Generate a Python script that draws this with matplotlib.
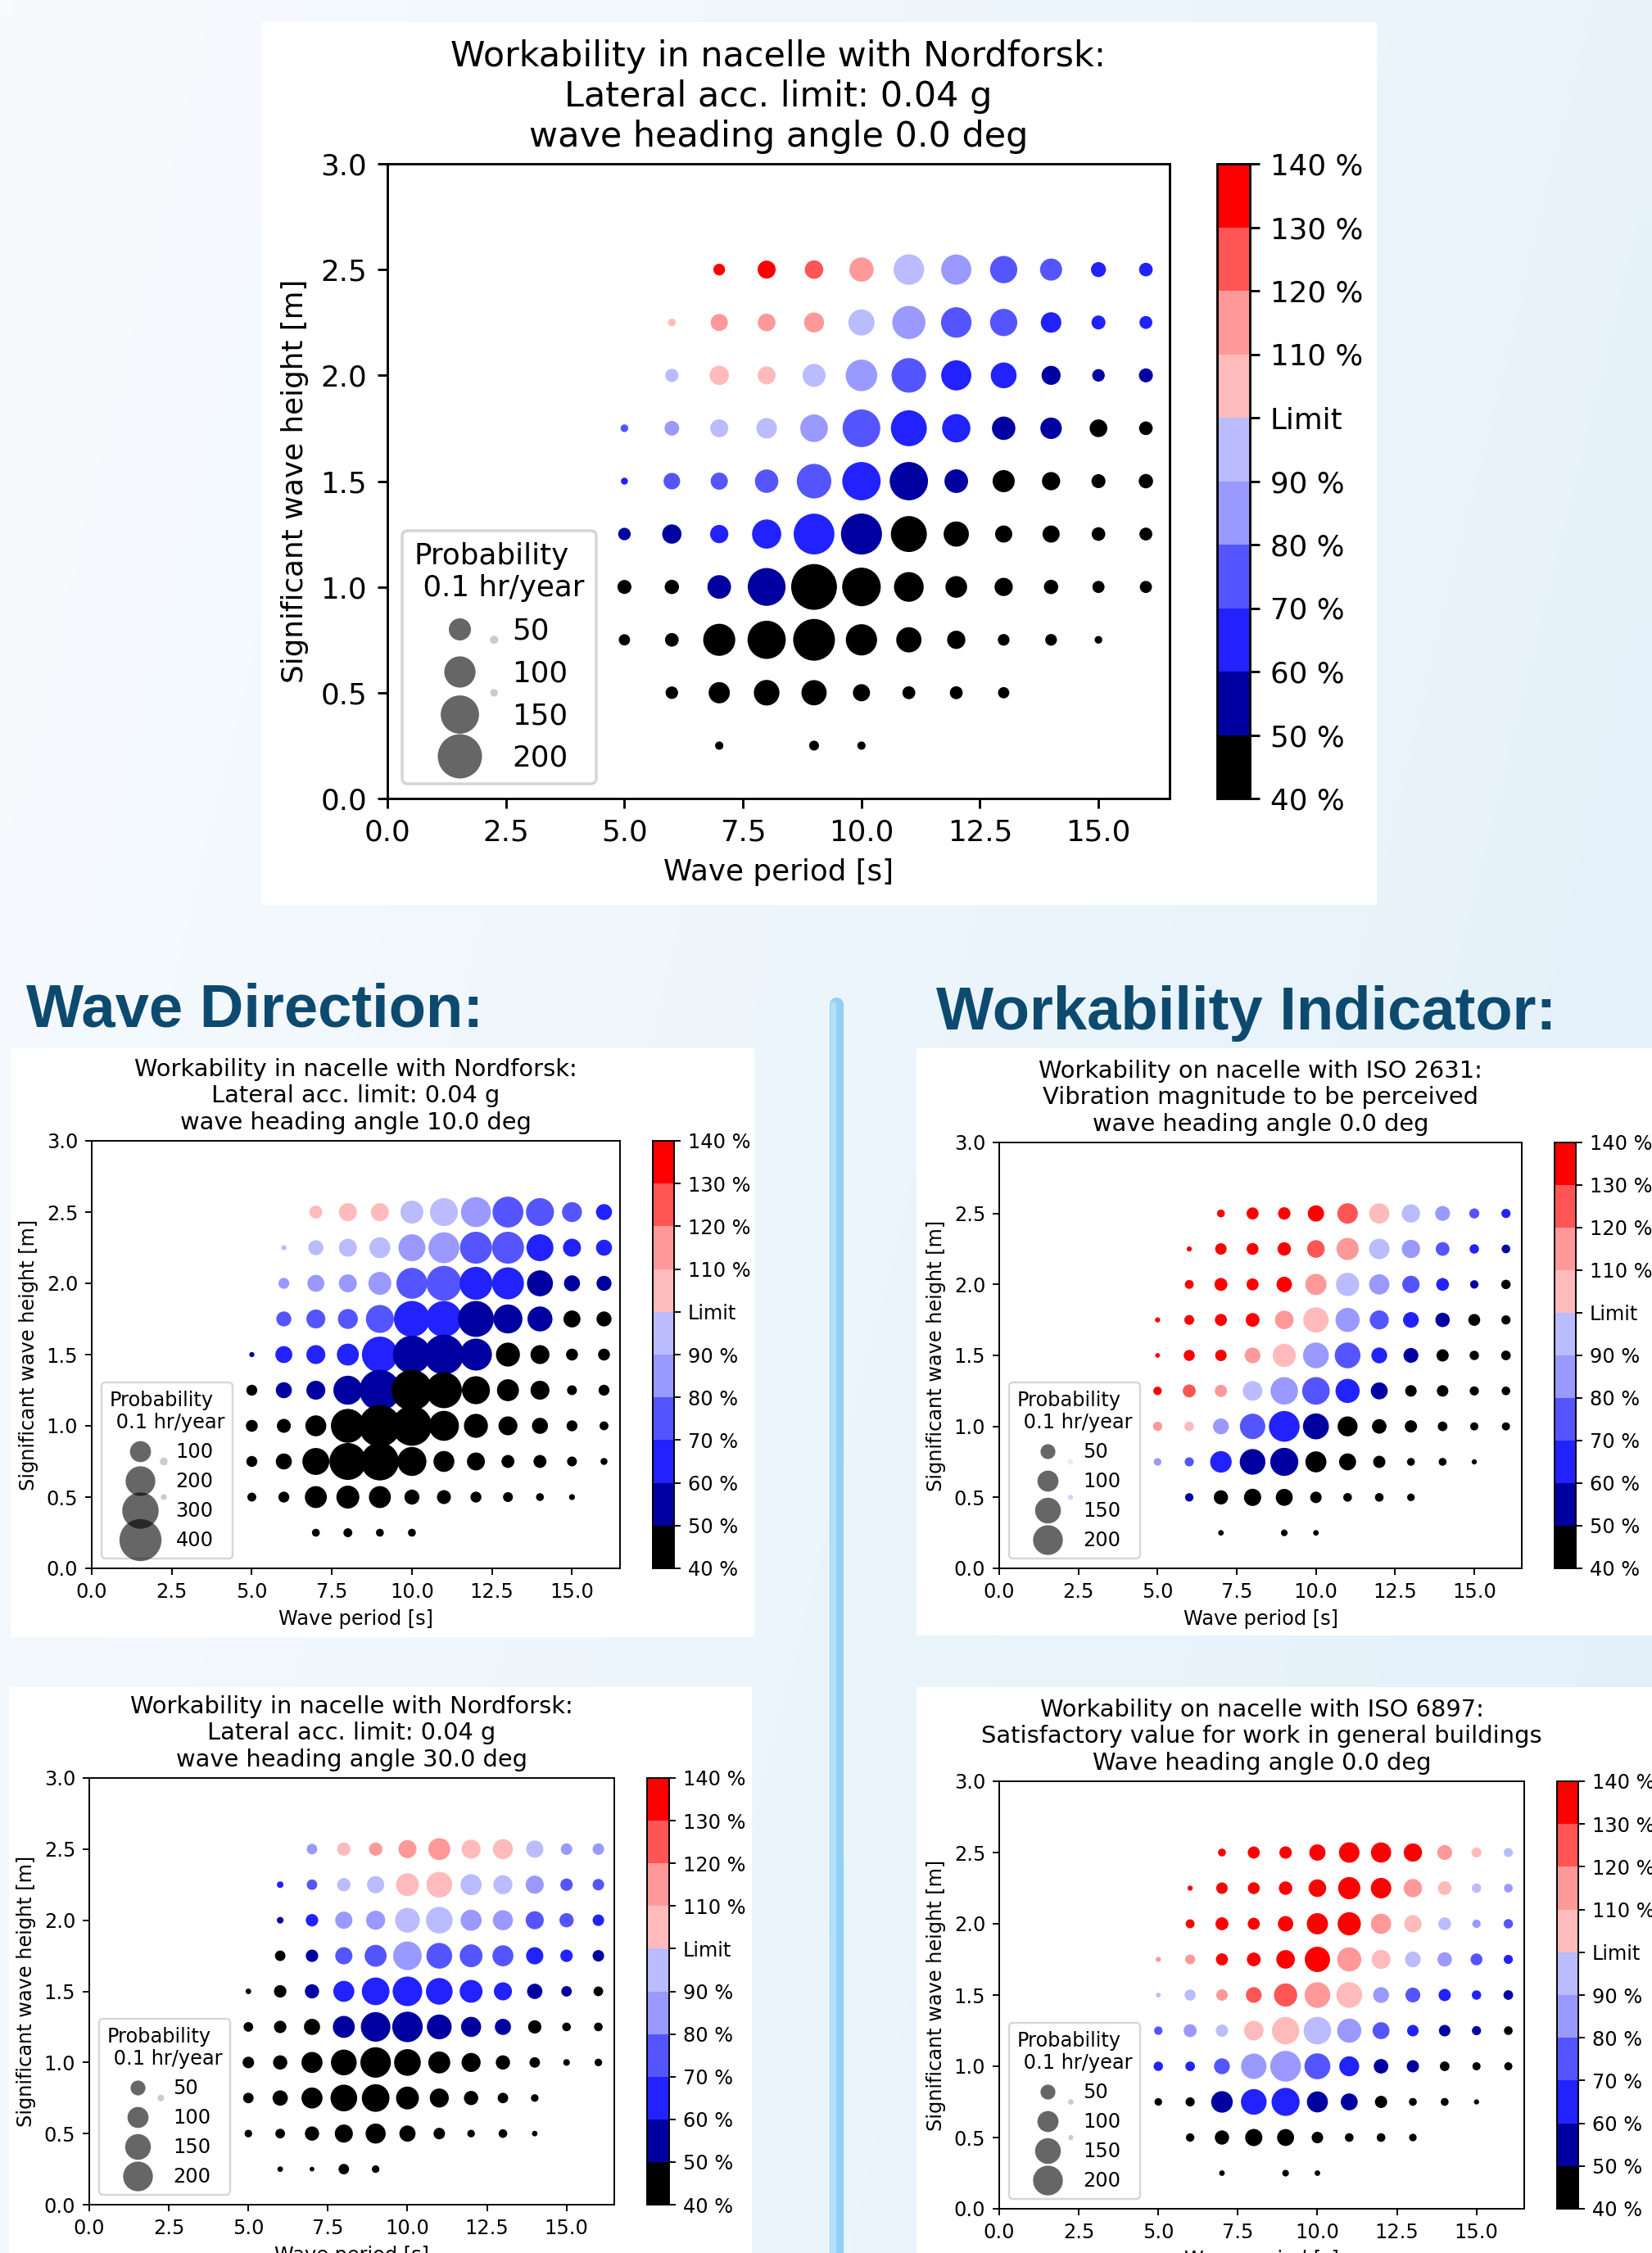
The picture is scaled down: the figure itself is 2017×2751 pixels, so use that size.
import numpy as np
import matplotlib
matplotlib.use('Agg')
import matplotlib.pyplot as plt
from matplotlib.colors import ListedColormap, BoundaryNorm, to_rgb
from matplotlib.cm import ScalarMappable
from matplotlib.lines import Line2D
from matplotlib.patches import Rectangle

nan = np.nan

# grid of sea states: wave period [s] (columns) x significant wave height [m] (rows)
PERIODS = [2.25, 5, 6, 7, 8, 9, 10, 11, 12, 13, 14, 15, 16]
HEIGHTS = [2.5, 2.25, 2.0, 1.75, 1.5, 1.25, 1.0, 0.75, 0.5, 0.25]

# probability of occurrence, 0.1 hr/year
PROB_HEAD0 = [
    [nan, nan, nan, 14, 33, 35, 60, 95, 93, 76, 50, 23, 19],
    [nan, nan, 6, 30, 32, 41, 70, 112, 95, 76, 43, 20, 17],
    [nan, nan, 18, 38, 33, 54, 102, 122, 93, 68, 37, 16, 20],
    [nan, 6, 22, 33, 43, 78, 145, 132, 82, 56, 47, 32, 19],
    [nan, 5, 28, 30, 56, 122, 150, 150, 57, 50, 34, 20, 21],
    [nan, 16, 38, 34, 87, 170, 172, 132, 65, 30, 30, 19, 17],
    [nan, 20, 21, 57, 146, 214, 152, 90, 48, 34, 21, 15, 15],
    [7, 13, 19, 105, 149, 178, 100, 65, 34, 14, 14, 6, nan],
    [6, nan, 16, 46, 67, 65, 30, 17, 17, 13, nan, nan, nan],
    [nan, nan, nan, 7, nan, 10, 7, nan, nan, nan, nan, nan, nan],
]
PROB_HEAD10 = [
    [nan, nan, nan, 38, 73, 73, 119, 177, 203, 216, 177, 90, 58],
    [nan, nan, 6, 51, 73, 99, 164, 216, 231, 231, 164, 73, 58],
    [nan, nan, 27, 65, 73, 119, 216, 276, 245, 231, 152, 58, 51],
    [nan, nan, 51, 81, 90, 177, 292, 292, 292, 190, 141, 65, 51],
    [nan, 6, 65, 81, 109, 292, 325, 360, 231, 130, 81, 32, 32],
    [nan, 27, 58, 81, 190, 379, 379, 292, 177, 109, 81, 22, 27],
    [nan, 32, 44, 99, 260, 397, 360, 203, 130, 81, 58, 27, 18],
    [14, 27, 58, 164, 308, 325, 190, 99, 73, 38, 38, 22, 11],
    [8, 18, 27, 109, 119, 109, 51, 44, 27, 22, 14, 8, nan],
    [nan, nan, nan, 14, 18, 14, 14, nan, nan, nan, nan, nan, nan],
]
PROB_HEAD30 = [
    [nan, nan, nan, 25, 40, 40, 74, 109, 82, 91, 67, 30, 30],
    [nan, nan, 10, 25, 40, 67, 118, 150, 100, 82, 74, 35, 30],
    [nan, nan, 10, 35, 67, 82, 139, 161, 100, 91, 74, 46, 30],
    [nan, nan, 25, 35, 67, 109, 185, 150, 118, 100, 67, 35, 30],
    [nan, 7, 35, 46, 100, 173, 198, 161, 118, 74, 53, 25, 21],
    [nan, 21, 35, 59, 109, 198, 210, 139, 91, 59, 40, 17, 17],
    [nan, 30, 46, 100, 150, 210, 161, 109, 82, 46, 25, 10, 13],
    [10, 25, 53, 100, 161, 173, 118, 82, 46, 25, 13, nan, nan],
    [nan, 13, 21, 46, 74, 91, 59, 30, 13, 17, 7, nan, nan],
    [nan, nan, 7, 5, 25, 13, nan, nan, nan, nan, nan, nan, nan],
]

# workability, % of limit
WORK_NORD_0 = [
    [nan, nan, nan, 135, 135, 125, 115, 95, 85, 75, 75, 65, 65],
    [nan, nan, 105, 115, 115, 115, 95, 85, 75, 75, 65, 65, 65],
    [nan, nan, 95, 105, 105, 95, 85, 75, 65, 65, 55, 55, 55],
    [nan, 75, 85, 95, 95, 85, 75, 65, 65, 55, 55, 45, 45],
    [nan, 65, 75, 75, 75, 75, 65, 55, 55, 45, 45, 45, 45],
    [nan, 55, 55, 65, 65, 65, 55, 45, 45, 45, 45, 45, 45],
    [nan, 45, 45, 55, 55, 45, 45, 45, 45, 45, 45, 45, 45],
    [45, 45, 45, 45, 45, 45, 45, 45, 45, 45, 45, 45, nan],
    [45, nan, 45, 45, 45, 45, 45, 45, 45, 45, nan, nan, nan],
    [nan, nan, nan, 45, nan, 45, 45, nan, nan, nan, nan, nan, nan],
]
WORK_NORD_10 = [
    [nan, nan, nan, 105, 105, 105, 95, 95, 85, 75, 75, 75, 65],
    [nan, nan, 95, 95, 95, 95, 85, 85, 75, 75, 65, 65, 65],
    [nan, nan, 85, 85, 85, 85, 75, 75, 65, 65, 55, 55, 55],
    [nan, nan, 75, 75, 75, 75, 65, 65, 55, 55, 55, 45, 45],
    [nan, 55, 65, 65, 65, 65, 55, 55, 55, 45, 45, 45, 45],
    [nan, 45, 55, 55, 55, 55, 45, 45, 45, 45, 45, 45, 45],
    [nan, 45, 45, 45, 45, 45, 45, 45, 45, 45, 45, 45, 45],
    [45, 45, 45, 45, 45, 45, 45, 45, 45, 45, 45, 45, 45],
    [45, 45, 45, 45, 45, 45, 45, 45, 45, 45, 45, 45, nan],
    [nan, nan, nan, 45, 45, 45, 45, nan, nan, nan, nan, nan, nan],
]
WORK_NORD_30 = [
    [nan, nan, nan, 85, 105, 115, 115, 115, 105, 105, 95, 85, 85],
    [nan, nan, 65, 75, 95, 95, 105, 105, 95, 95, 85, 75, 75],
    [nan, nan, 55, 65, 85, 85, 95, 95, 85, 85, 75, 75, 65],
    [nan, nan, 45, 55, 75, 75, 85, 75, 75, 75, 65, 65, 55],
    [nan, 45, 45, 55, 65, 65, 65, 65, 65, 65, 55, 55, 45],
    [nan, 45, 45, 45, 55, 55, 55, 55, 55, 55, 45, 45, 45],
    [nan, 45, 45, 45, 45, 45, 45, 45, 45, 45, 45, 45, 45],
    [45, 45, 45, 45, 45, 45, 45, 45, 45, 45, 45, nan, nan],
    [nan, 45, 45, 45, 45, 45, 45, 45, 45, 45, 45, nan, nan],
    [nan, nan, 45, 45, 45, 45, nan, nan, nan, nan, nan, nan, nan],
]
WORK_ISO2631 = [
    [nan, nan, nan, 135, 135, 135, 135, 125, 105, 95, 85, 75, 65],
    [nan, nan, 135, 135, 135, 135, 125, 115, 95, 85, 75, 65, 55],
    [nan, nan, 135, 135, 135, 135, 115, 95, 85, 75, 65, 55, 45],
    [nan, 135, 135, 135, 135, 115, 105, 85, 75, 65, 55, 45, 45],
    [nan, 135, 135, 135, 115, 105, 85, 75, 65, 55, 45, 45, 45],
    [nan, 135, 125, 115, 95, 85, 75, 65, 55, 45, 45, 45, 45],
    [nan, 115, 105, 85, 75, 65, 55, 45, 45, 45, 45, 45, 45],
    [85, 85, 75, 65, 55, 55, 45, 45, 45, 45, 45, 45, nan],
    [65, nan, 55, 45, 45, 45, 45, 45, 45, 45, nan, nan, nan],
    [nan, nan, nan, 45, nan, 45, 45, nan, nan, nan, nan, nan, nan],
]
WORK_ISO6897 = [
    [nan, nan, nan, 135, 135, 135, 135, 135, 135, 135, 115, 105, 95],
    [nan, nan, 135, 135, 135, 135, 135, 135, 135, 115, 105, 95, 85],
    [nan, nan, 135, 135, 135, 135, 135, 135, 115, 105, 95, 85, 75],
    [nan, 115, 115, 135, 135, 135, 135, 115, 105, 95, 85, 75, 65],
    [nan, 95, 95, 115, 125, 125, 115, 105, 85, 75, 65, 65, 55],
    [nan, 75, 85, 95, 105, 105, 95, 85, 75, 65, 55, 55, 45],
    [nan, 65, 65, 75, 85, 85, 75, 65, 55, 55, 45, 45, 45],
    [45, 45, 45, 55, 65, 65, 55, 55, 45, 45, 45, 45, nan],
    [45, nan, 45, 45, 45, 45, 45, 45, 45, 45, nan, nan, nan],
    [nan, nan, nan, 45, nan, 45, 45, nan, nan, nan, nan, nan, nan],
]

LEVELS = [40, 50, 60, 70, 80, 90, 100, 110, 120, 130, 140]
LEVEL_LABELS = ['40 %', '50 %', '60 %', '70 %', '80 %', '90 %', 'Limit',
                '110 %', '120 %', '130 %', '140 %']
LEVEL_COLORS = ['#000000', '#0000a0', '#2222ff', '#5555ff', '#9999ff', '#bbbbff',
                '#ffbbbb', '#ff9999', '#ff5555', '#ff0000']
XTICKS = [0.0, 2.5, 5.0, 7.5, 10.0, 12.5, 15.0]
YTICKS = [0.0, 0.5, 1.0, 1.5, 2.0, 2.5, 3.0]
LEGEND_SMALL = [50, 100, 150, 200]
LEGEND_LARGE = [100, 200, 300, 400]

NORDFORSK = 'Workability in nacelle with Nordforsk:\nLateral acc. limit: 0.04 g\n'
TITLE_TOP = NORDFORSK + 'wave heading angle 0.0 deg'
TITLE_10 = NORDFORSK + 'wave heading angle 10.0 deg'
TITLE_30 = NORDFORSK + 'wave heading angle 30.0 deg'
TITLE_2631 = ('Workability on nacelle with ISO 2631:\nVibration magnitude to be perceived\n'
              'wave heading angle 0.0 deg')
TITLE_6897 = ('Workability on nacelle with ISO 6897:\nSatisfactory value for work in general buildings\n'
              'Wave heading angle 0.0 deg')

W, H = 2017, 2751
SIZE_K = 1.24   # scatter area (pt^2) per 0.1 hr/year, at marker scale 1
CMAP = ListedColormap(LEVEL_COLORS)
NORM = BoundaryNorm(LEVELS, CMAP.N)


def fig_box(x0, y0, x1, y1):
    # pixel box (top-left origin) -> figure fraction rect
    return [x0 / W, 1 - y1 / H, (x1 - x0) / W, (y1 - y0) / H]


def chart_rc(sc):
    return {'font.size': 10 * sc, 'axes.titlesize': 12 * sc, 'axes.labelsize': 10 * sc,
            'legend.fontsize': 10 * sc, 'legend.title_fontsize': 10 * sc,
            'axes.linewidth': 0.8 * sc, 'axes.titlepad': 6 * sc, 'axes.labelpad': 4 * sc,
            'patch.linewidth': 1.0 * sc}


def draw_chart(fig, ax_px, cb_px, sc, msc, title, prob, work, legend_vals):
    # sc scales text and lines, msc scales the markers
    ticks = dict(labelsize=10 * sc, length=3.5 * sc, width=0.8 * sc, pad=3.5 * sc)
    with plt.rc_context(chart_rc(sc)):
        ax = fig.add_axes(fig_box(*ax_px))
        tt, hh = np.meshgrid(PERIODS, HEIGHTS)
        p = np.asarray(prob, dtype=float)
        w = np.asarray(work, dtype=float)
        ok = np.isfinite(p) & np.isfinite(w)
        ax.scatter(tt[ok], hh[ok], s=SIZE_K * msc ** 2 * p[ok], c=w[ok],
                   cmap=CMAP, norm=NORM, linewidths=0)
        ax.set_xlim(0, 16.5)
        ax.set_ylim(0, 3)
        ax.set_xticks(XTICKS)
        ax.set_yticks(YTICKS)
        ax.tick_params(**ticks)
        ax.set_xlabel('Wave period [s]')
        ax.set_ylabel('Significant wave height [m]')
        ax.set_title(title)

        handles = [Line2D([], [], ls='none', marker='o', color='k', alpha=0.6,
                          markeredgewidth=0, markersize=np.sqrt(SIZE_K * msc ** 2 * v))
                   for v in legend_vals]
        ax.legend(handles, [str(v) for v in legend_vals],
                  title='Probability\n 0.1 hr/year', loc='lower left')

        cax = fig.add_axes(fig_box(*cb_px))
        cb = fig.colorbar(ScalarMappable(norm=NORM, cmap=CMAP), cax=cax, ticks=LEVELS)
        cb.ax.set_yticklabels(LEVEL_LABELS)
        cb.ax.tick_params(**ticks)
    return ax


fig = plt.figure(figsize=(W / 100, H / 100), dpi=100)

# poster background
bg = fig.add_axes([0, 0, 1, 1], zorder=-5)
gx, gy = np.meshgrid(np.linspace(0, 1, 64), np.linspace(0, 1, 64))
t = (0.75 * gx + 0.25 * gy)[..., None]
c0 = np.array(to_rgb('#f8fbfe'))
c1 = np.array(to_rgb('#e2f0fa'))
bg.imshow(c0 + (c1 - c0) * t, extent=[0, 1, 0, 1], aspect='auto',
          interpolation='bilinear', origin='upper')
bg.set_axis_off()

# white cards behind each chart
for x0, y0, x1, y1 in [(319, 27, 1681, 1105), (13, 1280, 921, 1999), (1119, 1280, 2040, 1997),
                       (11, 2060, 918, 2770), (1119, 2060, 2040, 2770)]:
    fig.add_artist(Rectangle((x0 / W, 1 - y1 / H), (x1 - x0) / W, (y1 - y0) / H,
                             transform=fig.transFigure, facecolor='white',
                             edgecolor='none', zorder=-1))

# separator bar
fig.add_artist(Line2D([1020.5 / W] * 2, [1 - 1226 / H, -0.05], transform=fig.transFigure,
                      lw=17 * 0.72, color='#92d0f6', solid_capstyle='round', zorder=-0.5))
fig.add_artist(Line2D([1017 / W] * 2, [1 - 1226 / H, -0.05], transform=fig.transFigure,
                      lw=7 * 0.72, color='#b4e0fa', solid_capstyle='round', zorder=-0.4))

head = dict(fontsize=53.5, fontweight='bold', family='Liberation Sans', color='#0c4a70',
            va='baseline', ha='left')
fig.text(32 / W, 1 - 1253 / H, 'Wave Direction:', **head)
fig.text(1143 / W, 1 - 1257 / H, 'Workability Indicator:', **head)

draw_chart(fig, (473, 200, 1428, 975), (1486, 200, 1526, 975), 2.57, 2.47,
           TITLE_TOP, PROB_HEAD0, WORK_NORD_0, LEGEND_SMALL)
draw_chart(fig, (112, 1393, 757, 1915), (797, 1393, 823, 1915), 1.73, 1.66,
           TITLE_10, PROB_HEAD10, WORK_NORD_10, LEGEND_LARGE)
draw_chart(fig, (1220, 1395, 1858, 1915), (1898, 1395, 1924, 1915), 1.73, 1.66,
           TITLE_2631, PROB_HEAD0, WORK_ISO2631, LEGEND_SMALL)
draw_chart(fig, (109, 2171, 750, 2692), (790, 2171, 817, 2692), 1.73, 1.66,
           TITLE_30, PROB_HEAD30, WORK_NORD_30, LEGEND_SMALL)
draw_chart(fig, (1220, 2175, 1861, 2697), (1901, 2175, 1927, 2697), 1.73, 1.66,
           TITLE_6897, PROB_HEAD0, WORK_ISO6897, LEGEND_SMALL)

fig.savefig('out.png', dpi=100)
